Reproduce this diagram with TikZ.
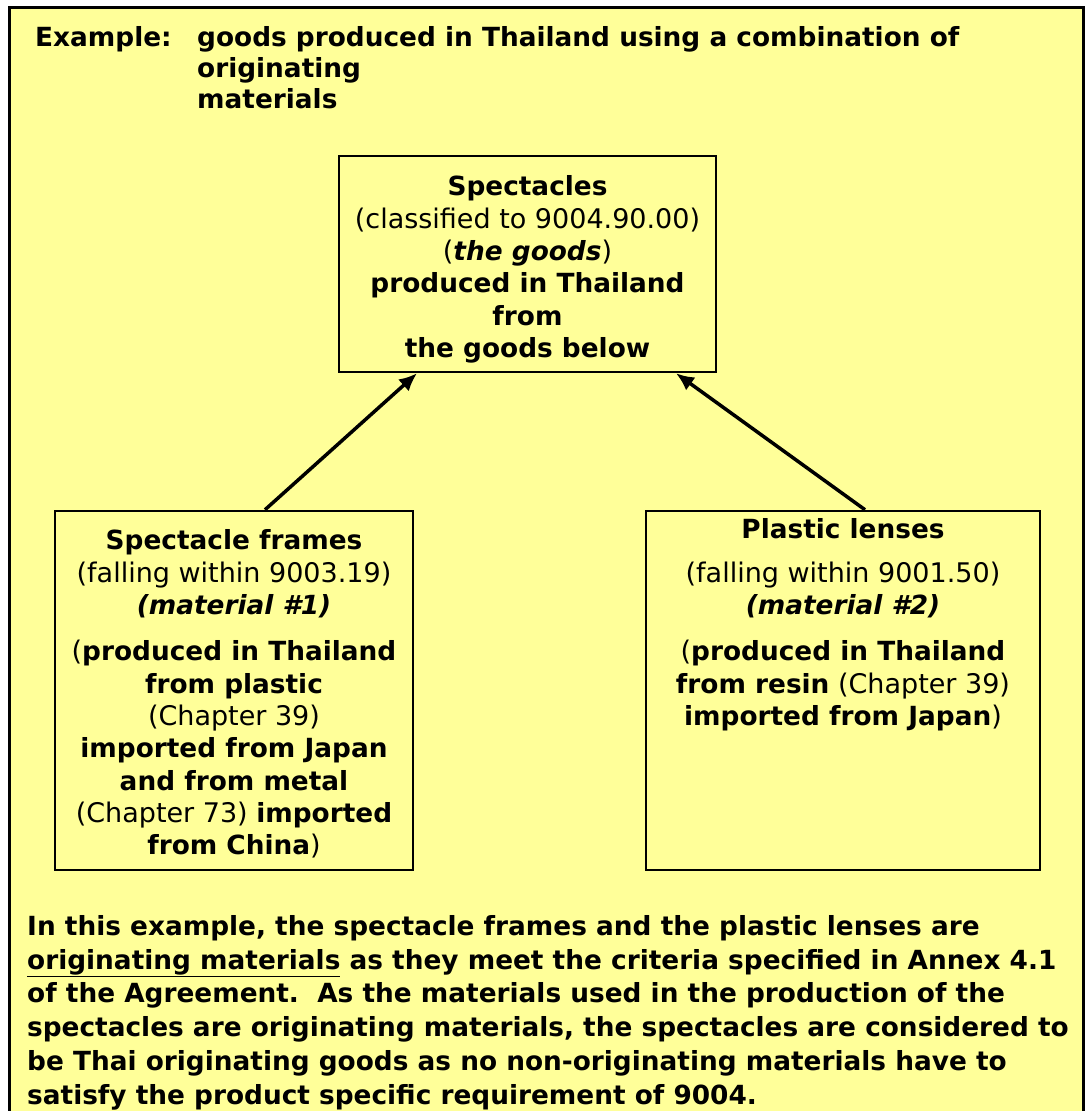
\documentclass[tikz,border=0pt]{standalone}
\usepackage{fontspec}
\setmainfont{DejaVu Sans}
\usetikzlibrary{arrows.meta,positioning}
\definecolor{paleyellow}{HTML}{FFFF99}
\newcommand\bx[1]{{\fontsize{26.35}{32.3}\selectfont\bfseries #1}}
\newcommand\bxi[1]{{\fontsize{26.35}{32.3}\selectfont\bfseries\itshape #1}}

\tikzset{
  box/.style={draw, line width=2.5pt, inner sep=0pt},
  txt/.style={inner sep=0pt, align=center, font=\fontsize{27}{32.3}\selectfont},
  note/.style={inner sep=0pt, align=left, font=\bfseries\fontsize{26.35}{33.8}\selectfont},
  link/.style={-{Latex[length=18pt,width=16pt]}, line width=3.5pt},
}

\begin{document}
\begin{tikzpicture}[x=1pt, y=-1pt]
\useasboundingbox (0,0) rectangle (1085,1111);
\fill[white] (0,0) rectangle (1085,1111);
\draw[line width=3pt, fill=paleyellow] (9,7) rectangle (1083,1135);%%
% heading
\node[note, anchor=base west] (ex) at (35,46) {Example:};%%
\node[note, anchor=north west, font=\bfseries\fontsize{26.35}{31}\selectfont] (head) at (197,26)
  {goods produced in Thailand using a combination of\\originating\\materials};%%
% the goods
\node[box, minimum width=377, minimum height=216] (goods) at (527.5,264) {};%%
\node[txt, below=21pt of goods.north] (goodstxt)
  {\bx{Spectacles}\\(classified to 9004.90.00)\\(\bxi{the goods})\\
   \bx{produced in Thailand}\\\bx{from}\\\bx{the goods below}};%%
% material #1
\node[box, minimum width=358, minimum height=359] (frames) at (234,690.5) {};%%
\node[txt, below=20pt of frames.north] (framestxt)
  {\bx{Spectacle frames}\\(falling within 9003.19)\\\bxi{(material \#1)}\\[14pt]
   (\bx{produced in Thailand}\\\bx{from plastic}\\(Chapter 39)\\
   \bx{imported from Japan}\\\bx{and from metal}\\(Chapter 73) \bx{imported}\\
   \bx{from China})};%%
% material #2
\node[box, minimum width=394, minimum height=359] (lenses) at (843,690.5) {};%%
\node[txt, below=9pt of lenses.north] (lensestxt)
  {\bx{Plastic lenses}\\[11pt](falling within 9001.50)\\\bxi{(material \#2)}\\[14pt]
   (\bx{produced in Thailand}\\\bx{from resin} (Chapter 39)\\
   \bx{imported from Japan})};%%
% arrows
\draw[link] ([xshift=31pt]frames.north) -- ([xshift=-110.5pt]goods.south);%%
\draw[link] ([xshift=22pt]lenses.north) -- ([xshift=148.5pt]goods.south);%%
% conclusion
\node[note, anchor=north west] (concl) at (27,915)
  {In this example, the spectacle frames and the plastic lenses are\\
   \underline{originating materials} as they meet the criteria specified in Annex 4.1\\
   of the Agreement.\ \ As the materials used in the production of the\\
   spectacles are originating materials, the spectacles are considered to\\
   be Thai originating goods as no non-originating materials have to\\
   satisfy the product specific requirement of 9004.};%%
\end{tikzpicture}
\end{document}
